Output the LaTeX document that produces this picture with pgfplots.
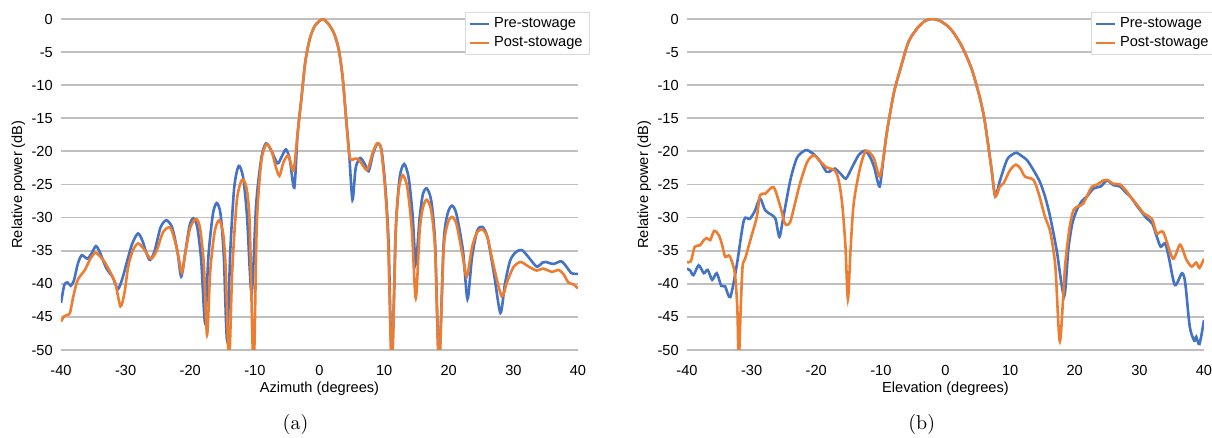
\documentclass[border=0pt]{standalone}
\usepackage{fontspec}
\usepackage{pgfplots}
\pgfplotsset{compat=1.18}
\newfontfamily\arial{Liberation Sans}
\definecolor{preblue}{HTML}{4472C4}
\definecolor{postorange}{HTML}{ED7D31}
\definecolor{gridgray}{HTML}{BFBFBF}
\definecolor{leggray}{HTML}{D9D9D9}

\pgfplotsset{
  mystyle/.style={
    scale only axis, width=258.5pt, height=165.5pt,
    xmin=-40, xmax=40, ymin=-50, ymax=0,
    xtick={-40,-30,...,40}, ytick={-50,-45,...,0},
    axis line style={draw=none},
    major tick length=0pt,
    clip mode=individual,
    ymajorgrids, major grid style={gridgray, line width=0.9pt},
    /pgf/number format/assume math mode=true,
    tick label style={font=\arial\fontsize{7.3}{8.7}\selectfont},
    yticklabel style={xshift=-0.6pt},
    xticklabel style={yshift=-4.0pt},
    every axis x label/.style={at={(axis description cs:0.5,0)}, anchor=base, yshift=-21.2pt, font=\arial\fontsize{7.3}{8.7}\selectfont},
    every axis y label/.style={at={([xshift=-19.4pt]axis description cs:0,0.5)}, rotate=90, anchor=base, font=\arial\fontsize{7.3}{8.7}\selectfont},
    ylabel={Relative power (dB)},
    legend style={at={(1,1)}, anchor=north east, xshift=6pt, yshift=3.5pt,
      draw=leggray, line width=0.5pt, fill=white, font=\arial\fontsize{7.3}{8.7}\selectfont,
      inner xsep=1.5pt, inner ysep=0.5pt, row sep=-1pt},
    legend cell align=left,
    legend image code/.code={\draw[#1] (0pt,0pt) -- (9.5pt,0pt);},
    every axis plot/.append style={line width=1.3pt, smooth, tension=0.45},
  }
}

\begin{document}
\begin{tikzpicture}
\useasboundingbox (-30.5pt,-44pt) rectangle (575.5pt,175pt);
% ---------------- (a) Azimuth ----------------
\begin{axis}[mystyle, at={(0pt,0pt)}, anchor=south west,
  xlabel={Azimuth (degrees)}]
\addplot[preblue] table {
-40 -42.9
-39.5 -40.2
-39.0 -39.8
-38.5 -40.3
-38.0 -39.5
-37.4 -37.0
-36.8 -35.7
-35.9 -36.2
-35.2 -35.3
-34.6 -34.3
-34.0 -35.2
-33.0 -37.6
-32.0 -39.0
-31.2 -40.8
-30.5 -39.2
-29.8 -36.7
-29.0 -34.0
-28.1 -32.4
-27.4 -33.5
-26.7 -35.6
-26.2 -36.4
-25.5 -35.0
-24.6 -31.5
-23.7 -30.4
-22.8 -31.5
-22.0 -35.0
-21.4 -38.9
-20.8 -35.5
-20.1 -31.2
-19.5 -30.1
-18.9 -31.5
-18.3 -36.5
-17.7 -45.9
-17.2 -36
-16.5 -29.5
-15.9 -27.8
-15.3 -29.5
-14.8 -36
-14.3 -48.5
-13.8 -35
-13.2 -25.5
-12.5 -22.2
-11.8 -24
-11.2 -30
-10.5 -41.5
-9.8 -28
-9.0 -21.0
-8.3 -18.8
-7.5 -19.8
-6.5 -21.8
-5.9 -20.9
-5.2 -19.7
-4.6 -21.2
-3.9 -25.5
-3.4 -17.5
-2.8 -12
-2.2 -6.5
-1.5 -3.0
-0.7 -1.0
0.5 0
1.5 -0.9
2.3 -2.3
3.0 -4.7
3.6 -9.0
4.1 -14.8
4.6 -20.5
5.1 -27.3
5.6 -22.5
6.3 -21.0
7.0 -21.9
7.6 -23.0
8.3 -20.3
9.0 -18.8
9.6 -19.8
10.2 -25.5
10.7 -34
11.2 -52
11.8 -32
12.4 -24
13.1 -21.9
13.8 -24
14.4 -29.5
14.9 -36.9
15.5 -30
16.0 -26.5
16.6 -25.6
17.3 -27.5
17.9 -34
18.5 -52
19.2 -34
19.8 -29.5
20.5 -28.2
21.2 -29.5
22.2 -35
22.9 -42.3
23.6 -36
24.4 -32
25.2 -31.4
26.0 -33
27.0 -38.5
28.0 -44.4
28.7 -40
29.5 -36.5
30.4 -35.2
31.3 -34.9
32.2 -35.8
33.6 -37.4
34.5 -36.8
35.0 -36.7
36.2 -37.0
37.4 -36.6
38.2 -37.4
39.0 -38.4
40.0 -38.5
};
\addlegendentry{Pre-stowage}
\addplot[postorange] table {
-40 -45.7
-39.5 -44.9
-39.0 -44.7
-38.6 -44.4
-38.2 -42.4
-37.7 -40.3
-37.3 -39.2
-36.3 -37.9
-35.5 -36.3
-34.7 -35.3
-34.0 -35.8
-33.2 -36.8
-32.5 -38.0
-31.6 -39.9
-30.8 -43.4
-30.2 -41.5
-29.6 -37.4
-28.9 -35.0
-28.1 -33.9
-27.3 -34.6
-26.5 -35.8
-26.0 -36.2
-25.2 -35.0
-24.2 -32.2
-23.1 -31.5
-22.3 -33.8
-21.8 -36.0
-21.3 -38.3
-20.7 -35
-20.0 -31.5
-19.1 -30.2
-18.5 -31.5
-17.9 -37
-17.4 -47.7
-16.9 -38
-16.2 -32
-15.5 -30.4
-14.9 -32.5
-14.5 -38
-14.0 -52
-13.5 -38
-12.8 -27.5
-12.0 -24.3
-11.3 -25.5
-10.8 -31
-10.2 -53
-9.7 -31
-9.0 -21.5
-8.2 -18.9
-7.4 -20.0
-6.8 -22.2
-6.2 -23.7
-5.6 -21.7
-4.9 -20.6
-4.5 -21.6
-4.0 -22.9
-3.4 -17.5
-2.8 -12
-2.2 -6.5
-1.5 -3.0
-0.7 -1.0
0.5 0
1.5 -0.9
2.3 -2.3
3.0 -4.7
3.6 -9.0
4.1 -14.8
4.6 -20.5
5.0 -21.3
5.4 -21.1
5.9 -21.1
6.5 -21.8
7.4 -22.8
8.2 -20.3
8.9 -18.8
9.5 -19.5
10.1 -25.0
10.6 -33
11.2 -52
11.8 -32
12.3 -25.5
12.9 -23.6
13.6 -25.5
14.3 -32
14.9 -42.2
15.5 -32
16.0 -28.5
16.6 -27.3
17.3 -29
17.9 -35
18.5 -52
19.2 -35
19.8 -31
20.5 -29.9
21.2 -31
22.1 -35.5
22.8 -38.9
23.6 -34.5
24.4 -32.2
25.2 -31.8
26.0 -33
27.0 -37.5
28.2 -41.9
29.0 -39.8
30.0 -37.5
31.1 -36.7
32.2 -37.3
33.6 -38.0
34.6 -37.7
36.0 -38.2
37.0 -37.9
37.8 -38.6
38.5 -39.8
39.3 -40.1
40.0 -40.7
};
\addlegendentry{Post-stowage}
\node[font=\fontsize{10}{12}\selectfont, anchor=base] at (axis description cs:0.4536,0) [yshift=-39.8pt] {(a)};
\end{axis}
% ---------------- (b) Elevation ----------------
\begin{axis}[mystyle, at={(313pt,0pt)}, anchor=south west,
  xlabel={Elevation (degrees)}]
\addplot[preblue] table {
-40 -37.7
-39.5 -38.0
-39.0 -38.7
-38.2 -37.2
-37.4 -38.4
-36.8 -37.9
-36.1 -39.4
-35.4 -38.4
-34.7 -40.3
-34.1 -40.4
-33.3 -42.0
-32.3 -37.2
-31.2 -30.4
-30.3 -30.2
-29.5 -29
-28.7 -27.1
-27.9 -28.9
-26.9 -29.6
-26.3 -30.2
-25.7 -32.9
-25.1 -30.0
-24.0 -24.3
-23.0 -21.0
-22.0 -20.0
-21.4 -19.8
-20.3 -20.5
-19.4 -21.5
-18.4 -23.1
-17.7 -22.9
-17.1 -22.6
-16.2 -23.4
-15.4 -24.1
-14.4 -22.3
-13.4 -20.5
-12.4 -19.9
-11.6 -21.0
-11.0 -22.5
-10.2 -25.3
-9.6 -21.0
-9.1 -17.3
-8.0 -11.2
-7.0 -7.6
-5.7 -3.4
-4.2 -1.2
-3.0 -0.2
-1.9 0
-0.8 -0.3
0.5 -1.2
1.4 -2.3
2.3 -3.7
3.2 -5.5
4.1 -7.7
4.8 -10
5.4 -12.2
6.0 -15
6.5 -18.3
7.1 -22.5
7.7 -26.8
8.4 -24.5
9.5 -21.3
10.3 -20.5
11.0 -20.2
11.8 -20.7
12.6 -21.3
13.6 -22.8
14.6 -24.6
15.4 -26.8
16.2 -29.9
17.2 -34.9
18.35 -41.9
19.0 -34.9
19.6 -31
20.3 -28.9
21.1 -27.5
21.9 -26.8
22.9 -25.6
24.0 -25.3
25.0 -24.4
26.0 -25.1
27.0 -25.3
28.0 -26.3
28.6 -26.8
29.6 -28.2
30.7 -29.6
31.1 -30.1
32.0 -30.9
32.7 -32.9
33.3 -34.4
34.0 -33.9
34.6 -36.2
35.5 -40.2
36.6 -38.4
37.1 -39.9
37.8 -46.5
38.5 -48.6
38.8 -48.0
39.3 -49.1
40.0 -45.5
};
\addlegendentry{Pre-stowage}
\addplot[postorange] table {
-40 -36.7
-39.4 -36.6
-38.8 -34.4
-38.0 -34.2
-37.4 -33.4
-36.9 -33.1
-36.4 -33.4
-35.8 -32.0
-35.1 -32.6
-34.6 -34.0
-34.1 -35.9
-33.4 -35.8
-32.6 -38.4
-32.2 -44
-32.0 -52
-31.7 -44
-31.4 -37.4
-31.0 -36.2
-30.2 -33.4
-29.2 -29.9
-28.7 -26.6
-27.9 -26.4
-26.6 -25.4
-25.6 -28.2
-24.9 -30.8
-24.5 -31.1
-24.0 -30.6
-23.2 -27.5
-22.5 -24.8
-21.4 -21.6
-20.4 -20.6
-19.4 -21.5
-18.4 -22.4
-17.1 -22.9
-16.5 -24.5
-16.0 -27.8
-15.5 -34
-15.1 -42.3
-14.7 -35
-14.2 -27.8
-13.2 -22.4
-12.3 -19.9
-11.1 -21.0
-10.2 -23.8
-9.6 -21.0
-9.1 -17.3
-8.0 -11.2
-7.0 -7.6
-5.7 -3.4
-4.2 -1.2
-3.0 -0.2
-1.9 0
-0.8 -0.3
0.5 -1.2
1.4 -2.3
2.3 -3.7
3.2 -5.5
4.1 -7.7
4.8 -10
5.4 -12.2
6.0 -15
6.5 -18.3
7.1 -22.5
7.7 -26.8
8.4 -25.3
9.0 -24.8
10.0 -22.8
10.9 -22.0
11.6 -22.6
12.3 -23.8
13.6 -24.3
14.4 -26.3
15.4 -29.9
16.2 -32.1
17.0 -37.4
17.7 -48.7
18.5 -37.4
19.2 -31.5
19.8 -28.9
20.5 -28.3
21.3 -27.9
22.6 -25.4
23.5 -25.0
24.4 -24.4
25.0 -24.3
26.0 -24.9
27.0 -25.0
28.0 -26.0
28.6 -26.8
29.6 -28.0
30.7 -29.4
31.1 -29.6
32.0 -30.3
32.7 -32.4
33.7 -32.2
35.2 -36.2
36.3 -34.1
37.3 -36.4
38.1 -37.4
38.8 -36.8
39.3 -37.6
40.0 -36.2
};
\addlegendentry{Post-stowage}
\node[font=\fontsize{10}{12}\selectfont, anchor=base] at (axis description cs:0.454,0) [yshift=-39.8pt] {(b)};
\end{axis}
\end{tikzpicture}
\end{document}
